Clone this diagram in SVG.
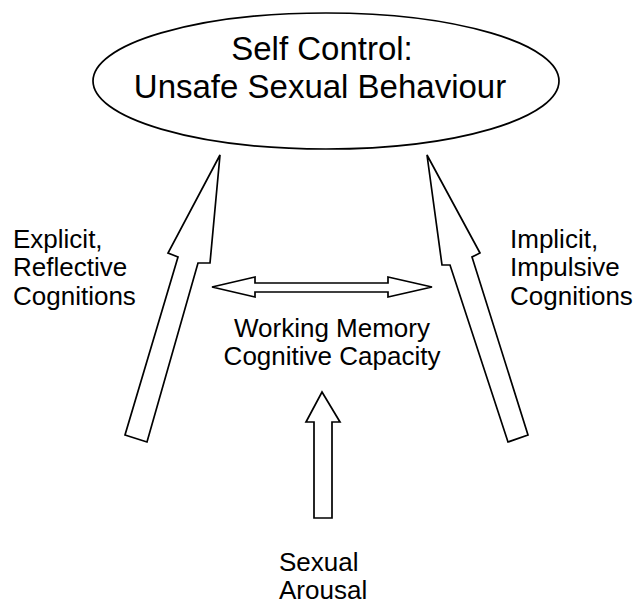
<svg xmlns="http://www.w3.org/2000/svg" width="634" height="605" viewBox="0 0 634 605">
<style>
.t{font-family:"Liberation Sans",Arial,sans-serif;fill:#000}
.big{font-size:33px}
.mid{font-size:26px}
.sh{fill:#fff;stroke:#000;stroke-width:1.7;stroke-linejoin:miter}
</style>
<rect width="634" height="605" fill="#fff"/>
<g id="self-control">
<ellipse class="sh" cx="326" cy="81" rx="233" ry="68"/>
<text class="t big" x="322" y="60" text-anchor="middle">Self Control:</text>
<text class="t big" x="320" y="98" text-anchor="middle">Unsafe Sexual Behaviour</text>
</g>
<g id="explicit">
<text class="t mid" x="13" y="248">Explicit,</text>
<text class="t mid" x="13" y="276">Reflective</text>
<text class="t mid" x="13" y="305">Cognitions</text>
</g>
<g id="implicit">
<text class="t mid" x="510" y="248">Implicit,</text>
<text class="t mid" x="510" y="276">Impulsive</text>
<text class="t mid" x="510" y="305">Cognitions</text>
</g>
<g id="working-memory">
<text class="t mid" x="332" y="337" text-anchor="middle">Working Memory</text>
<text class="t mid" x="332" y="365" text-anchor="middle">Cognitive Capacity</text>
</g>
<g id="sexual-arousal">
<text class="t mid" x="279" y="571">Sexual</text>
<text class="t mid" x="279" y="599">Arousal</text>
</g>
<g id="connectors">
<polygon class="sh" points="220,155 210,263 198,263 147,442 125,435 178,257 168,253"/>
<polygon class="sh" points="427,155 480,253 472,257 528,435 508,442 450,265 442,265"/>
<polygon class="sh" points="212,287 255,277 255,283 388,283 388,277 432,287 388,297 388,292 255,292 255,297"/>
<polygon class="sh" points="322,392 340,422 332,422 332,518 314,518 314,422 306,422"/>
</g>
</svg>
